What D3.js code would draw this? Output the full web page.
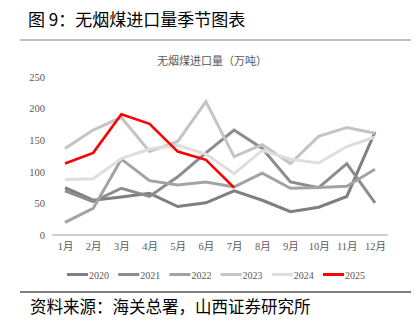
<!DOCTYPE html>
<html><head><meta charset="utf-8">
<script src="https://cdn.jsdelivr.net/npm/d3@7"></script>
<style>body{margin:0;background:#fff}svg{display:block}</style>
</head><body>
<script>
const months = ["1月","2月","3月","4月","5月","6月","7月","8月","9月","10月","11月","12月"];
const years = ["2020","2021","2022","2023","2024","2025"];
const v2020 = [75, 55, 60, 66, 45, 51, 70, 55, 37, 44, 61, 163];
const v2021 = [70, 53, 74, 61, 92, 130, 166, 137, 84, 75, 113, 51];
const v2022 = [20, 42, 120, 86, 79, 84, 76, 98, 74, 75, 77, 104];
const v2023 = [137, 166, 186, 132, 148, 211, 124, 143, 113, 156, 170, 161];
const v2024 = [88, 89, 121, 136, 142, 128, 97, 134, 120, 114, 140, 155];
const v2025 = [113, 130, 191, 176, 132, 119, 75];
const yTicks = [0, 50, 100, 150, 200, 250];
const colors = ["#7f7f7f","#8c8c8c","#a3a3a3","#c4c4c4","#dedede","#ff0000"];
const seriesVals = [v2020, v2021, v2022, v2023, v2024, v2025];

const W = 416, H = 330;
const svg = d3.select("body").append("svg").attr("width", W).attr("height", H);
const cjk = "'Noto Sans CJK SC', sans-serif";
const serif = "'Liberation Serif', 'Noto Sans CJK SC', serif";

// header
svg.append("text").attr("x", 28).attr("y", 26).attr("font-family", cjk)
  .attr("font-size", 17).attr("fill", "#000").text("图 9：无烟煤进口量季节图表");
svg.append("line").attr("x1", 20).attr("x2", 411).attr("y1", 40).attr("y2", 40)
  .attr("stroke", "#808080").attr("stroke-width", 1.2);

// chart title
svg.append("text").attr("x", 212).attr("y", 65).attr("text-anchor", "middle")
  .attr("font-family", cjk).attr("font-size", 11).attr("fill", "#595959").text("无烟煤进口量（万吨）");

const x = d3.scalePoint().domain(months).range([65, 375]);
const y = d3.scaleLinear().domain([0, 250]).range([235, 77]);

// y axis labels
const yAxis = d3.axisLeft(y).tickValues(yTicks).tickSize(0).tickPadding(0);
const gy = svg.append("g").attr("transform", "translate(45,0)").call(yAxis);
gy.select(".domain").remove();
gy.selectAll("text").attr("font-family", serif).attr("font-size", 10.5).attr("fill", "#595959");

// x axis
const xAxis = d3.axisBottom(x).tickSize(0).tickPadding(8);
const gx = svg.append("g").attr("transform", "translate(0,235)").call(xAxis);
gx.select(".domain").remove();
gx.selectAll("text").attr("font-family", serif).attr("font-size", 10.5).attr("fill", "#595959");
svg.append("line").attr("x1", 52).attr("x2", 388).attr("y1", 235).attr("y2", 235)
  .attr("stroke", "#bfbfbf").attr("stroke-width", 1.5);

const line = d3.line().x((d, i) => x(months[i])).y(d => y(d));
seriesVals.forEach((vals, k) => {
  svg.append("path").datum(vals).attr("d", line).attr("fill", "none")
    .attr("stroke", colors[k]).attr("stroke-width", k === 5 ? 2.6 : 3)
    .attr("stroke-linejoin", "miter");
});

// legend
years.forEach((yr, k) => {
  const lx = 67 + k * 51.2;
  const g = svg.append("g");
  g.append("line").attr("x1", lx).attr("x2", lx + 21).attr("y1", 274.5).attr("y2", 274.5)
    .attr("stroke", colors[k]).attr("stroke-width", 3);
  g.append("text").attr("x", lx + 22).attr("y", 278.5).attr("font-family", serif)
    .attr("font-size", 10).attr("fill", "#595959").text(yr);
});

// footer
svg.append("line").attr("x1", 20).attr("x2", 411).attr("y1", 292).attr("y2", 292)
  .attr("stroke", "#000").attr("stroke-width", 1);
svg.append("text").attr("x", 30).attr("y", 313).attr("font-family", cjk)
  .attr("font-size", 16.5).attr("fill", "#000").text("资料来源：海关总署，山西证券研究所");
</script>
</body></html>
